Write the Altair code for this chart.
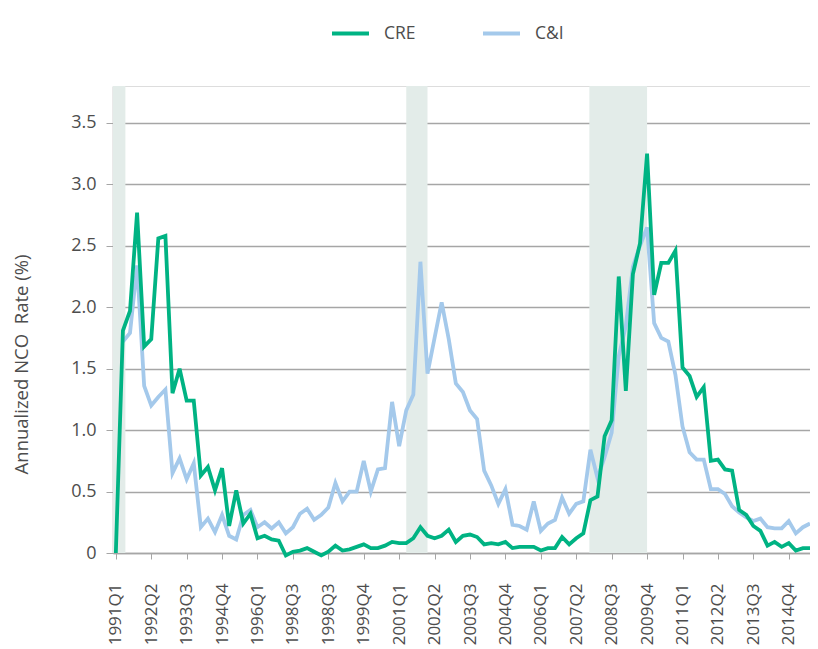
import json
import altair as alt
import pandas as pd

FIRST_YEAR = 1991

cre = [0.00, 1.81, 1.97, 2.77, 1.68, 1.74, 2.56, 2.58, 1.30, 1.50,
       1.24, 1.24, 0.63, 0.70, 0.51, 0.69, 0.22, 0.51, 0.24, 0.32,
       0.12, 0.14, 0.11, 0.10, -0.02, 0.01, 0.02, 0.04, 0.01, -0.02,
       0.01, 0.06, 0.02, 0.03, 0.05, 0.07, 0.04, 0.04, 0.06, 0.09,
       0.08, 0.08, 0.12, 0.21, 0.14, 0.12, 0.14, 0.19, 0.09, 0.14,
       0.15, 0.13, 0.07, 0.08, 0.07, 0.09, 0.04, 0.05, 0.05, 0.05,
       0.02, 0.04, 0.04, 0.13, 0.07, 0.12, 0.16, 0.43, 0.46, 0.95,
       1.08, 2.25, 1.32, 2.27, 2.52, 3.25, 2.10, 2.36, 2.36, 2.46,
       1.51, 1.44, 1.27, 1.35, 0.75, 0.76, 0.68, 0.67, 0.35, 0.31,
       0.22, 0.18, 0.06, 0.09, 0.05, 0.08, 0.02, 0.04, 0.04, 0.05]

ci = [None, 1.72, 1.79, 2.34, 1.36, 1.20, 1.27, 1.33, 0.65, 0.77,
      0.60, 0.73, 0.21, 0.28, 0.17, 0.31, 0.14, 0.11, 0.31, 0.35,
      0.21, 0.25, 0.20, 0.25, 0.16, 0.21, 0.32, 0.36, 0.27, 0.31,
      0.37, 0.57, 0.42, 0.50, 0.50, 0.75, 0.50, 0.68, 0.69, 1.23,
      0.87, 1.16, 1.29, 2.37, 1.46, 1.75, 2.04, 1.74, 1.38, 1.31,
      1.16, 1.09, 0.67, 0.55, 0.40, 0.52, 0.23, 0.22, 0.19, 0.42,
      0.18, 0.24, 0.27, 0.45, 0.32, 0.40, 0.42, 0.84, 0.61, 0.78,
      0.98, 1.60, 1.85, 2.33, 2.50, 2.65, 1.87, 1.75, 1.72, 1.45,
      1.03, 0.82, 0.76, 0.76, 0.52, 0.52, 0.48, 0.38, 0.33, 0.29,
      0.26, 0.28, 0.21, 0.20, 0.20, 0.26, 0.16, 0.21, 0.24, 0.36]

tick_labels = ["1991Q1", "1992Q2", "1993Q3", "1994Q4", "1996Q1", "1998Q3",
               "1998Q3", "1999Q4", "2001Q1", "2002Q2", "2003Q3", "2004Q4",
               "2006Q1", "2007Q2", "2008Q3", "2009Q4", "2011Q1", "2012Q2",
               "2013Q3", "2014Q4"]
tick_step = 5

# recession bands, in quarter-index units
rec_start = [-0.4, 41.0, 66.85]
rec_end = [1.35, 44.0, 75.0]

series_names = ["CRE", "C&I"]
series_colors = ["#00B383", "#A4C9EB"]

X_MIN, X_MAX = -0.4, 98

rows = []
for i, (a, b) in enumerate(zip(cre, ci)):
    q = f"{FIRST_YEAR + i // 4}Q{i % 4 + 1}"
    rows.append({"idx": i, "quarter": q, "series": "CRE", "value": a})
    if b is not None:
        rows.append({"idx": i, "quarter": q, "series": "C&I", "value": b})
df = pd.DataFrame(rows)
rec = pd.DataFrame({"start": rec_start, "end": rec_end})

FONT = "Open Sans"
GREY = "#A6A6A6"
TXT = "#4D4D4D"

xscale = alt.Scale(domain=[X_MIN, X_MAX], nice=False, zero=False)
yscale = alt.Scale(domain=[0, 3.8], nice=False, zero=False)
color_scale = alt.Scale(domain=series_names, range=series_colors)

label_expr = json.dumps(tick_labels) + f"[round(datum.value / {tick_step})]"

xaxis = alt.Axis(values=list(range(0, len(tick_labels) * tick_step, tick_step)),
                 labelExpr=label_expr, labelAngle=-90, labelAlign="right",
                 labelBaseline="middle", labelPadding=24, tickSize=6,
                 tickColor=GREY, domainColor=GREY, domainWidth=1.5, grid=False,
                 labelFontSize=17, labelColor=TXT, labelFont=FONT, title=None,
                 labelOverlap=False)
yaxis = alt.Axis(values=[0, 0.5, 1.0, 1.5, 2.0, 2.5, 3.0, 3.5],
                 labelExpr="datum.value == 0 ? '0' : format(datum.value, '.1f')",
                 grid=True, gridColor=GREY, gridWidth=1.3, tickSize=7,
                 tickColor=GREY, domainColor=GREY, domainWidth=1.5,
                 labelPadding=10, labelFontSize=18, labelColor=TXT, labelFont=FONT,
                 title="Annualized NCO\u00a0 Rate (%)", titleFont=FONT, titleFontSize=18.5,
                 titleFontWeight="normal", titleColor=TXT, titleAngle=270,
                 titleAlign="center", titleBaseline="middle", titleX=-92, titleY=278)

bands = alt.Chart(rec).mark_rect(color="#E3ECE9").encode(
    x=alt.X("start:Q", scale=xscale, axis=xaxis),
    x2="end:Q",
)

legend = alt.Legend(orient="none", legendX=217, legendY=-73, direction="horizontal",
                    title=None, symbolType="stroke", symbolSize=1369,
                    symbolStrokeWidth=4, labelFontSize=17.5, labelFont=FONT,
                    labelColor=TXT, labelOffset=13, columnPadding=59, padding=0)

def line_for(name):
    return alt.Chart(df[df.series == name]).transform_filter(
        f"datum.idx <= {X_MAX}"
    ).mark_line(strokeWidth=3.8).encode(
        x=alt.X("idx:Q", scale=xscale, axis=xaxis),
        y=alt.Y("value:Q", scale=yscale, axis=yaxis),
        color=alt.Color("series:N", scale=color_scale, legend=legend),
        order="idx:Q",
    )

chart = alt.layer(bands, line_for("C&I"), line_for("CRE")).properties(
    width=697, height=467,
    autosize=alt.AutoSizeParams(type="none"),
    padding={"left": 105, "top": 78, "right": 0, "bottom": 92},
).configure_view(stroke=None).configure(font=FONT)

chart.save("out.html", embed_options={"renderer": "svg", "actions": False})
